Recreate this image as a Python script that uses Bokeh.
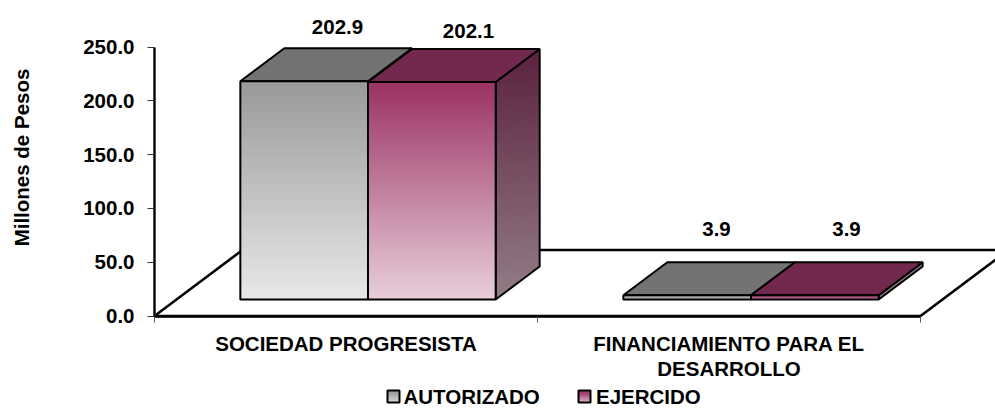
from bokeh.core.properties import value
from bokeh.embed import file_html
from bokeh.models import FixedTicker, LinearAxis, NumeralTickFormatter, Range1d
from bokeh.plotting import figure
from bokeh.resources import INLINE

CATEGORIES = ["SOCIEDAD PROGRESISTA", "FINANCIAMIENTO PARA EL\nDESARROLLO"]
SERIES_NAMES = ["AUTORIZADO", "EJERCIDO"]
AUTORIZADO = [202.9, 3.9]
EJERCIDO = [202.1, 3.9]
Y_TICKS = [0, 50, 100, 150, 200, 250]

FONT = "Liberation Sans"
FS = "20.5px"
BAR_W = 1 / 3
PX_PER_CAT = 383.0
PX_PER_VAL = 1.076
X0_PX, Y0_PX = 154.0, 315.5
DEPTH_X = 88 / PX_PER_CAT
DEPTH_Y = 66 / PX_PER_VAL
D_FRONT, D_BACK = 0.25, 0.75

FRONT_STOPS = [((0x9a, 0x9a, 0x9a), (0xe9, 0xe9, 0xe9)), ((0x9c, 0x34, 0x66), (0xe9, 0xd0, 0xdc))]
TOP_COLORS = ["#737373", "#72284f"]
SIDE_STOPS = [((0x5c, 0x5c, 0x5c), (0x90, 0x90, 0x90)), ((0x5c, 0x23, 0x40), (0x95, 0x80, 0x89))]


def dx(px):
    return (px - X0_PX) / PX_PER_CAT


def dy(py):
    return (Y0_PX - py) / PX_PER_VAL


def mix(stops, t):
    a, b = stops
    t = max(0.0, min(1.0, t))
    return "#%02x%02x%02x" % tuple(round(a[i] + (b[i] - a[i]) * t) for i in range(3))


def gradient_rect(x0, x1, y0, y1, stops, n):
    """Vertical gradient, dark at y1 and light at y0; strips overlap downward so no seams show."""
    h = (y1 - y0) / n
    bots = [max(y0, y0 + h * (k - 1)) for k in range(n)]
    tops = [y0 + h * (k + 1) for k in range(n)]
    cols = [mix(stops, 1 - (k + 0.5) / n) for k in range(n)]
    p.quad(left=x0, right=x1, bottom=bots, top=tops, fill_color=cols, fill_alpha=1, line_color=None)


p = figure(
    width=995, height=408, output_backend="svg", toolbar_location=None,
    x_range=Range1d(dx(0), dx(995)), y_range=Range1d(dy(408), dy(0)),
    min_border=0, x_axis_type=None, y_axis_type=None, outline_line_color=None,
)
p.grid.visible = False
p.background_fill_color = "white"
p.border_fill_color = "white"

# floor
p.line([0, 2, 2 + DEPTH_X, DEPTH_X, 0], [0, 0, DEPTH_Y, DEPTH_Y, 0], line_color="black", line_width=2.6)

# bars
for c in range(len(CATEGORIES)):
    for s, vals in enumerate([AUTORIZADO, EJERCIDO]):
        v = vals[c]
        x0 = c + 0.5 - BAR_W + s * BAR_W + D_FRONT * DEPTH_X
        x1 = x0 + BAR_W
        y0 = D_FRONT * DEPTH_Y
        y1 = y0 + v
        ddx = (D_BACK - D_FRONT) * DEPTH_X
        ddy = (D_BACK - D_FRONT) * DEPTH_Y
        full = max(AUTORIZADO) + ddy

        # right face: cells whose colour follows the height on the page
        rows = max(2, int(v / 4))
        cols = 12
        xs, ys, cs = [], [], []
        for i in range(cols):
            for j in range(rows):
                a0, a1 = max(0, i - 1) / cols, (i + 1) / cols
                b0, b1 = y0 + v * max(0, j - 1) / rows, y0 + v * (j + 1) / rows
                xs.append([x1 + a0 * ddx, x1 + a1 * ddx, x1 + a1 * ddx, x1 + a0 * ddx])
                ys.append([b0 + a0 * ddy, b0 + a1 * ddy, b1 + a1 * ddy, b1 + a0 * ddy])
                cy = y0 + v * (j + 0.5) / rows + (i + 0.5) / cols * ddy - y0
                cs.append(mix(SIDE_STOPS[s], 1 - cy / full))
        p.patches(xs, ys, fill_color=cs, fill_alpha=1, line_color=None)
        p.patch([x1, x1 + ddx, x1 + ddx, x1], [y0, y0 + ddy, y1 + ddy, y1],
                fill_alpha=0, line_color="black", line_width=2)

        # top face
        p.patch([x0, x1, x1 + ddx, x0 + ddx], [y1, y1, y1 + ddy, y1 + ddy],
                fill_color=TOP_COLORS[s], fill_alpha=1, line_color="black", line_width=2)

        # front face
        gradient_rect(x0, x1, y0, y1, FRONT_STOPS[s], max(3, int(v / 3)))
        p.quad(left=[x0], right=[x1], bottom=[y0], top=[y1], fill_alpha=0, line_color="black", line_width=2)

# axes at fixed positions inside the full-page frame
yax = LinearAxis(fixed_location=0, bounds=(0, 250), ticker=FixedTicker(ticks=Y_TICKS),
                 formatter=NumeralTickFormatter(format="0.0"))
yax.major_label_text_font = FONT
yax.major_label_text_font_style = "bold"
yax.major_label_text_font_size = FS
yax.major_label_text_color = "black"
yax.axis_line_color = "black"
yax.axis_line_width = 2.4
yax.major_tick_line_color = "#333333"
yax.major_tick_in = 0
yax.major_tick_out = 7
yax.minor_tick_line_color = None
yax.major_label_standoff = 13
p.add_layout(yax, "left")

xax = LinearAxis(fixed_location=0, bounds=(0, 2), ticker=FixedTicker(ticks=[0, 1, 2]))
xax.major_label_text_font_size = "0px"
xax.major_label_text_color = None
xax.axis_line_color = "black"
xax.axis_line_width = 2.6
xax.major_tick_line_color = "#555555"
xax.major_tick_in = 0
xax.major_tick_out = 6
xax.minor_tick_line_color = None
p.add_layout(xax, "below")

# category labels, one text per line so that their spacing can be kept
cat_x, cat_y, cat_t = [], [], []
for c, cat in enumerate(CATEGORIES):
    for n, line in enumerate(cat.split("\n")):
        cat_x.append(c + 0.5)
        cat_y.append(dy(342.5 + 25 * n))
        cat_t.append(line)
p.text(cat_x, cat_y, text=cat_t, text_font=value(FONT), text_font_style="bold", text_font_size=FS,
       text_align="center", text_baseline="middle", text_color="black")

# data labels (manually placed, as in the reference)
label_px_x = [337, 468, 716, 846]
label_px_y = [26, 30, 228, 228]
labels = [f"{v:.1f}" for pair in zip(AUTORIZADO, EJERCIDO) for v in pair]
p.text([dx(a) for a in label_px_x], [dy(a) for a in label_px_y], text=labels,
       text_font=value(FONT), text_font_style="bold", text_font_size=FS,
       text_align="center", text_baseline="middle", text_color="black")

# axis title
p.text([dx(21)], [dy(157)], text=["Millones de Pesos"], angle=1.5708,
       text_font=value(FONT), text_font_style="bold", text_font_size=FS,
       text_align="center", text_baseline="middle", text_color="black")

# legend
leg_y = 396
for name, sw_x, sw_w, tx_x, s in [(SERIES_NAMES[0], 387, 12, 403, 0), (SERIES_NAMES[1], 578, 12, 595.5, 1)]:
    gradient_rect(dx(sw_x), dx(sw_x + sw_w), dy(leg_y + 6), dy(leg_y - 6), FRONT_STOPS[s], 6)
    p.quad(left=[dx(sw_x)], right=[dx(sw_x + sw_w)], bottom=[dy(leg_y + 6)], top=[dy(leg_y - 6)],
           fill_alpha=0, line_color="black", line_width=2)
    p.text([dx(tx_x)], [dy(leg_y)], text=[name], text_font=value(FONT), text_font_style="bold",
           text_font_size=FS, text_align="left", text_baseline="middle", text_color="black")

open("out.html", "w").write(file_html(p, INLINE))
